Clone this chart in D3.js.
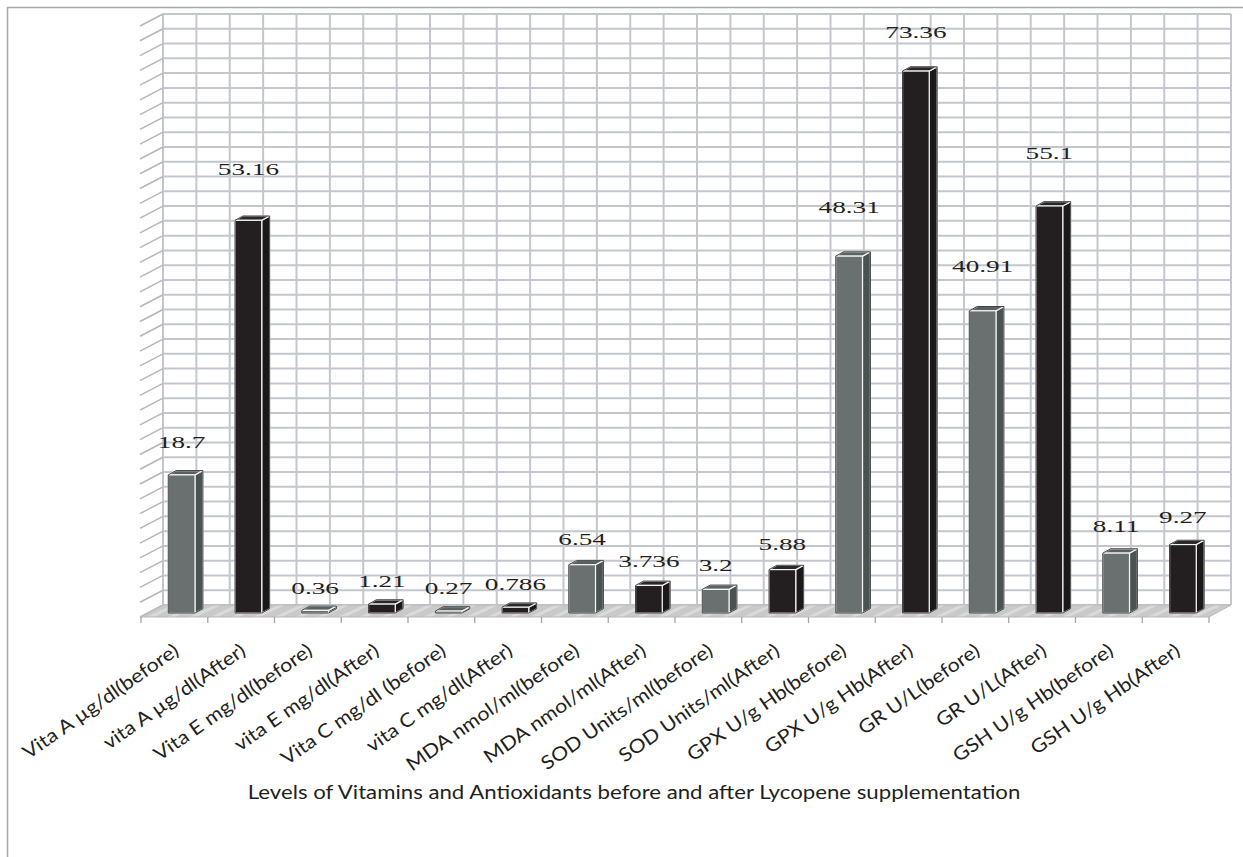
<!DOCTYPE html>
<html>
<head>
<meta charset="utf-8">
<script src="https://cdn.jsdelivr.net/npm/d3@7"></script>
<style>
  html, body { margin: 0; padding: 0; background: #fff; }
  svg { display: block; }
</style>
</head>
<body>
<div id="chart"></div>
<script>
// DATA
var categories = [
  "Vita A µg/dl(before)", "vita A µg/dl(After)",
  "Vita E mg/dl(before)", "vita E mg/dl(After)",
  "Vita C mg/dl (before)", "vita C mg/dl(After)",
  "MDA nmol/ml(before)", "MDA nmol/ml(After)",
  "SOD Units/ml(before)", "SOD Units/ml(After)",
  "GPX U/g Hb(before)", "GPX U/g Hb(After)",
  "GR U/L(before)", "GR U/L(After)",
  "GSH U/g Hb(before)", "GSH U/g Hb(After)"
];
var values = [18.7, 53.16, 0.36, 1.21, 0.27, 0.786, 6.54, 3.736, 3.2, 5.88, 48.31, 73.36, 40.91, 55.1, 8.11, 9.27];
var phase = ["before", "after", "before", "after", "before", "after", "before", "after",
             "before", "after", "before", "after", "before", "after", "before", "after"];
var yTicks = d3.range(0, 81, 2);
var title = "Levels of Vitamins and Antioxidants before and after Lycopene supplementation";

// SIZES
var W = 1243, H = 857;
var plot = {left: 141, right: 1209, floor: 617}; // front edge of the floor
var depth = {dx: 22, dy: -12};                   // full floor depth
var barDepth = [0.33, 0.69];                      // bar front / back as fraction of depth

var svg = d3.select("#chart").append("svg")
    .attr("width", W).attr("height", H);

// outer chart frame
svg.append("rect")
    .attr("x", 7.5).attr("y", 7.5)
    .attr("width", W + 20).attr("height", H + 20)
    .attr("fill", "none").attr("stroke", "#a9a9a9").attr("stroke-width", 1.5);

// scales
var x = d3.scaleBand()
    .domain(categories)
    .range([plot.left, plot.right])
    .paddingInner(0.6).paddingOuter(0.3);
var h = d3.scaleLinear().domain([0, 80]).range([0, 591]);

var step = x.step();
var backY = plot.floor + depth.dy;   // y of the back wall base
var backL = plot.left + depth.dx;
var backR = plot.right + depth.dx;

var defs = svg.append("defs");
var pat = defs.append("pattern")
    .attr("id", "floorPat").attr("patternUnits", "userSpaceOnUse")
    .attr("width", 9).attr("height", 9)
    .attr("patternTransform", "rotate(-25)");
pat.append("rect").attr("width", 9).attr("height", 9).attr("fill", "#c9c9c9");
pat.append("rect").attr("width", 9).attr("height", 3).attr("fill", "#dadada");

// BACK WALL GRID
var grid = svg.append("g").attr("class", "grid");
grid.selectAll("line.h").data(yTicks).enter().append("line")
    .attr("class", "h")
    .attr("x1", backL).attr("x2", backR)
    .attr("y1", function(d) { return backY - h(d); })
    .attr("y2", function(d) { return backY - h(d); })
    .attr("stroke", "#c3c7cd").attr("stroke-width", 2);
var vCols = d3.range(0, categories.length * 2 + 1);
grid.selectAll("line.v").data(vCols).enter().append("line")
    .attr("class", "v")
    .attr("x1", function(j) { return backL + j * step / 2; })
    .attr("x2", function(j) { return backL + j * step / 2; })
    .attr("y1", backY - h(80)).attr("y2", backY)
    .attr("stroke", "#c3c7cd").attr("stroke-width", 2);

// side ticks (left)
grid.selectAll("line.t").data(yTicks).enter().append("line")
    .attr("class", "t")
    .attr("x1", backL).attr("y1", function(d) { return backY - h(d); })
    .attr("x2", plot.left - 1).attr("y2", function(d) { return plot.floor - h(d); })
    .attr("stroke", "#b3b7bd").attr("stroke-width", 1.5);

// FLOOR
svg.append("polygon")
    .attr("points", [[plot.left, plot.floor], [plot.right, plot.floor],
                     [backR, backY], [backL, backY]].join(" "))
    .attr("fill", "url(#floorPat)")
    .attr("stroke", "#b9b9b9").attr("stroke-width", 1);

// category ticks
svg.append("g").selectAll("line").data(d3.range(0, categories.length + 1)).enter().append("line")
    .attr("x1", function(i) { return plot.left + i * step; })
    .attr("x2", function(i) { return plot.left + i * step; })
    .attr("y1", plot.floor).attr("y2", plot.floor + 6)
    .attr("stroke", "#a6a6a6").attr("stroke-width", 1.3);

// BARS
var colours = {
  before: {front: "#6a706f", side: "#4b5352", top: "#5a6161"},
  after:  {front: "#231f20", side: "#1b1819", top: "#2b2728"}
};
var bars = svg.append("g").selectAll("g.bar").data(values).enter().append("g").attr("class", "bar");

function geom(v, i) {
  var f0 = barDepth[0], dd = barDepth[1] - barDepth[0];
  var x1 = x(categories[i]) + f0 * depth.dx, x2 = x1 + x.bandwidth();
  var yb = plot.floor + f0 * depth.dy, yt = yb - h(v);
  var ox = dd * depth.dx, oy = dd * depth.dy;
  return {x1: x1, x2: x2, yb: yb, yt: yt, ox: ox, oy: oy};
}

bars.each(function(v, i) {
  var g = geom(v, i), c = colours[phase[i]], sel = d3.select(this);
  sel.append("polygon")
      .attr("points", [[g.x2, g.yb], [g.x2 + g.ox, g.yb + g.oy], [g.x2 + g.ox, g.yt + g.oy], [g.x2, g.yt]].join(" "))
      .attr("fill", c.side).attr("stroke", "#f2f2f2").attr("stroke-width", 1.2);
  sel.append("polygon")
      .attr("points", [[g.x1, g.yt], [g.x2, g.yt], [g.x2 + g.ox, g.yt + g.oy], [g.x1 + g.ox, g.yt + g.oy]].join(" "))
      .attr("fill", c.top).attr("stroke", "#f2f2f2").attr("stroke-width", 1.2);
  sel.append("rect")
      .attr("x", g.x1).attr("y", g.yt)
      .attr("width", g.x2 - g.x1).attr("height", g.yb - g.yt)
      .attr("fill", c.front).attr("stroke", "#f2f2f2").attr("stroke-width", 1.2);
  sel.append("polygon")
      .attr("points", [[g.x1, g.yb], [g.x2, g.yb], [g.x2 + g.ox, g.yb + g.oy], [g.x2 + g.ox, g.yt + g.oy],
                       [g.x1 + g.ox, g.yt + g.oy], [g.x1, g.yt]].join(" "))
      .attr("fill", "none").attr("stroke", "#2e2e2e").attr("stroke-width", 0.9);
});

// value labels: lifted more for taller bars (3D label placement), kept inside the frame
svg.append("g").selectAll("text").data(values).enter().append("text")
    .attr("transform", function(v, i) {
      var g = geom(v, i);
      var cx = (g.x1 + g.x2) / 2, cy = Math.max(g.yt - 22.5 - 0.55 * v, 32);
      return "translate(" + cx + "," + cy + ") scale(1.6,1)";
    })
    .attr("text-anchor", "middle").attr("dy", "0.35em")
    .attr("font-family", "'Liberation Serif', serif").attr("font-size", 17)
    .attr("fill", "#231f20")
    .text(function(v) { return String(v); });

// category labels
svg.append("g").selectAll("text").data(categories).enter().append("text")
    .attr("transform", function(d) {
      return "translate(" + (x(d) + x.bandwidth() / 2 + 2) + "," + 648 + ") rotate(-35) scale(1.13,1)";
    })
    .attr("text-anchor", "end").attr("dy", "0.35em")
    .attr("font-family", "Lato, sans-serif").attr("font-size", 19)
    .attr("fill", "#231f20")
    .text(function(d) { return d; });

// axis title
svg.append("text")
    .attr("transform", "translate(634,799) scale(1.17,1)")
    .attr("text-anchor", "middle")
    .attr("font-family", "Lato, sans-serif").attr("font-size", 19)
    .attr("fill", "#231f20")
    .text(title);
</script>
</body>
</html>
